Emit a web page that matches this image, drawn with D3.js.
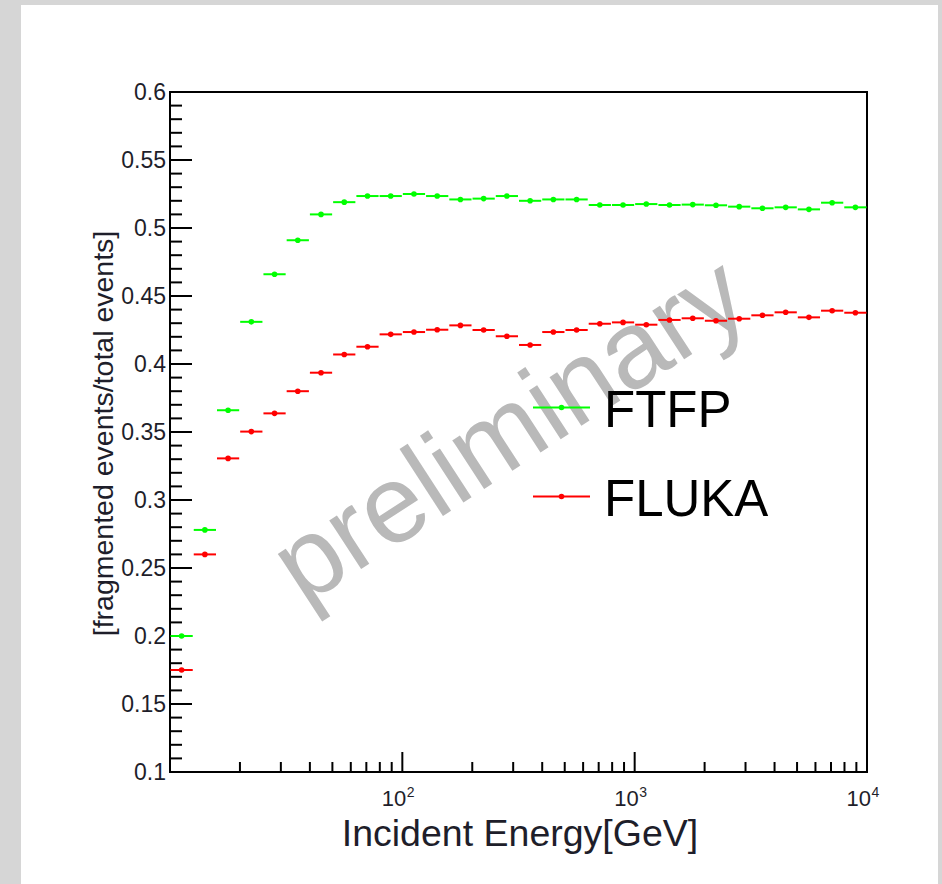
<!DOCTYPE html>
<html>
<head>
<meta charset="utf-8">
<script src="https://cdn.jsdelivr.net/npm/d3@7"></script>
<style>
  html, body { margin: 0; padding: 0; background: #d6d6d6; }
  svg { display: block; }
  text { font-family: "Liberation Sans", Arial, Helvetica, sans-serif; }
</style>
</head>
<body>
<script>
// ---- data ----
const binEdges = [10.00, 12.59, 15.85, 19.95, 25.12, 31.62, 39.81, 50.12, 63.10, 79.43,
  100.0, 125.9, 158.5, 199.5, 251.2, 316.2, 398.1, 501.2, 631.0, 794.3,
  1000, 1259, 1585, 1995, 2512, 3162, 3981, 5012, 6310, 7943, 10000];
const ftfp = [0.200, 0.278, 0.366, 0.431, 0.466, 0.491, 0.510, 0.519, 0.5235, 0.5235,
  0.525, 0.5235, 0.521, 0.5216, 0.5235, 0.520, 0.521, 0.521, 0.5169, 0.5169,
  0.5176, 0.5169, 0.5172, 0.5167, 0.5157, 0.5145, 0.5152, 0.5137, 0.5186, 0.5152];
const fluka = [0.175, 0.260, 0.3306, 0.3503, 0.3637, 0.380, 0.3936, 0.407, 0.4127, 0.4218,
  0.4235, 0.4252, 0.4284, 0.425, 0.4204, 0.414, 0.4235, 0.425, 0.4296, 0.4306,
  0.4289, 0.4324, 0.4336, 0.4318, 0.4333, 0.4358, 0.438, 0.4343, 0.4392, 0.4377];
const seriesNames = ["FTFP", "FLUKA"];
const seriesColors = ["#00ff00", "#ff0000"];
const yMajorTicks = [0.1, 0.15, 0.2, 0.25, 0.3, 0.35, 0.4, 0.45, 0.5, 0.55, 0.6];
const yTickLabels = ["0.1", "0.15", "0.2", "0.25", "0.3", "0.35", "0.4", "0.45", "0.5", "0.55", "0.6"];
const xMajorTicks = [100, 1000, 10000];
const xTickExponents = ["2", "3", "4"];
const xMinorTicks = [20, 30, 40, 50, 60, 70, 80, 90, 200, 300, 400, 500, 600, 700, 800, 900,
  2000, 3000, 4000, 5000, 6000, 7000, 8000, 9000];
const xTitle = "Incident Energy[GeV]";
const yTitle = "[fragmented events/total events]";
const watermark = "preliminary";

// ---- layout ----
const W = 942, H = 884;
const L = 170, R = 867, T = 92, B = 772;

const svg = d3.select("body").append("svg").attr("width", W).attr("height", H);
svg.append("rect").attr("x", 0).attr("y", 0).attr("width", W).attr("height", H).attr("fill", "#d6d6d6");
svg.append("rect").attr("x", 21).attr("y", 5).attr("width", 917).attr("height", H - 5).attr("fill", "#ffffff");

const x = d3.scaleLog().domain([10, 10000]).range([L, R]);
const y = d3.scaleLinear().domain([0.1, 0.6]).range([B, T]);

// watermark
svg.append("text")
  .attr("transform", "translate(529,460) rotate(-33)")
  .attr("text-anchor", "middle")
  .attr("font-size", 110)
  .attr("fill", "#b9b9b9")
  .text(watermark);

// y ticks (inside)
const yMinor = d3.range(10, 61).map(v => v / 100);
const gy = svg.append("g");
gy.selectAll("line.minor").data(yMinor).join("line")
  .attr("x1", L).attr("x2", (d, i) => (i % 5 === 0 ? L + 22 : L + 12))
  .attr("y1", d => y(d)).attr("y2", d => y(d))
  .attr("stroke", "#000").attr("stroke-width", 2);
gy.selectAll("text").data(yMajorTicks).join("text")
  .attr("x", 166).attr("y", d => y(d)).attr("dy", "0.36em")
  .attr("text-anchor", "end").attr("font-size", 23).attr("fill", "#1e1e2a")
  .text((d, i) => yTickLabels[i]);

// x ticks (inside)
const gx = svg.append("g");
gx.selectAll("line.minor").data(xMinorTicks).join("line")
  .attr("x1", d => x(d)).attr("x2", d => x(d))
  .attr("y1", B).attr("y2", B - 10)
  .attr("stroke", "#000").attr("stroke-width", 2);
gx.selectAll("line.major").data(xMajorTicks).join("line")
  .attr("x1", d => x(d)).attr("x2", d => x(d))
  .attr("y1", B).attr("y2", B - 20)
  .attr("stroke", "#000").attr("stroke-width", 2);
const xl = gx.selectAll("g.lab").data(xMajorTicks).join("g");
xl.append("text")
  .attr("x", d => x(d) + 4).attr("y", 806)
  .attr("text-anchor", "end").attr("font-size", 22).attr("fill", "#1e1e2a")
  .text("10");
xl.append("text")
  .attr("x", d => x(d) + 4.5).attr("y", 797)
  .attr("text-anchor", "start").attr("font-size", 14).attr("fill", "#1e1e2a")
  .text((d, i) => xTickExponents[i]);

// frame
svg.append("rect").attr("x", L).attr("y", T).attr("width", R - L).attr("height", B - T)
  .attr("fill", "none").attr("stroke", "#000").attr("stroke-width", 2);

// data
const series = [ftfp, fluka];
series.forEach((vals, s) => {
  const g = svg.append("g");
  const pts = vals.map((v, i) => ({ lo: binEdges[i], hi: binEdges[i + 1], c: Math.sqrt(binEdges[i] * binEdges[i + 1]), v }));
  g.selectAll("line").data(pts).join("line")
    .attr("x1", d => x(d.lo) + 0.5).attr("x2", d => x(d.hi) - 0.5)
    .attr("y1", d => y(d.v)).attr("y2", d => y(d.v))
    .attr("stroke", seriesColors[s]).attr("stroke-width", 2);
  g.selectAll("circle").data(pts).join("circle")
    .attr("cx", d => x(d.c)).attr("cy", d => y(d.v)).attr("r", 2.8)
    .attr("fill", seriesColors[s]);
});

// legend
const legY = [407.5, 496.5];
seriesNames.forEach((name, i) => {
  svg.append("line").attr("x1", 533).attr("x2", 590).attr("y1", legY[i]).attr("y2", legY[i])
    .attr("stroke", seriesColors[i]).attr("stroke-width", 2);
  svg.append("circle").attr("cx", 561.5).attr("cy", legY[i]).attr("r", 2.8).attr("fill", seriesColors[i]);
  svg.append("text").attr("x", 604).attr("y", legY[i] + 19.5)
    .attr("font-size", 51).attr("fill", "#000").text(name);
});

// titles
svg.append("text").attr("x", (L + R) / 2 + 1.5).attr("y", 846)
  .attr("text-anchor", "middle").attr("font-size", 37.5).attr("fill", "#1e1e2a")
  .text(xTitle);
svg.append("text").attr("transform", `translate(113,${(T + B) / 2 + 1.5}) rotate(-90)`)
  .attr("text-anchor", "middle").attr("font-size", 28.5).attr("fill", "#1e1e2a")
  .text(yTitle);
</script>
</body>
</html>
